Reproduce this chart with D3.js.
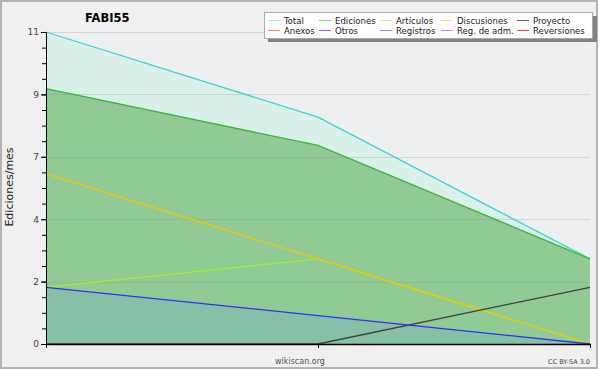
<!DOCTYPE html>
<html>
<head>
<meta charset="utf-8">
<script src="https://cdn.jsdelivr.net/npm/d3@7"></script>
<style>
  body { margin: 0; background: #fff; }
  text { font-family: 'DejaVu Sans', sans-serif; }
  .leg { font-family: 'DejaVu Sans Condensed', 'DejaVu Sans', sans-serif; font-stretch: condensed; }
</style>
</head>
<body>
<div id="chart"></div>
<script>
// three monthly points, no x labels shown
let months = ['', '', ''];
let total = [11, 8, 3];
let ediciones = [9, 7, 3];
let articulos = [2, 3, 0];
let discusiones = [6, 3, 0];
let registros = [2, 1, 0];
let proyecto = [0, 0, 2];

let yMax = 11;
let yTicks = [0, 2.2, 4.4, 6.6, 8.8, 11];

let legendNames = [
  ['Total', 'Ediciones', 'Artículos', 'Discusiones', 'Proyecto'],
  ['Anexos', 'Otros', 'Registros', 'Reg. de adm.', 'Reversiones']
];
let legendColors = [
  ['#a8ece6', '#86d086', '#daf290', '#ffd880', '#666666'],
  ['#f08858', '#9a50e6', '#8c8cf2', '#e47ce4', '#e04444']
];

let width = 600, height = 370;
let margin = {top: 32, right: 10, bottom: 26, left: 46};

let svg = d3.select('#chart').append('svg')
  .attr('width', width)
  .attr('height', height);

svg.append('rect')
  .attr('x', 1).attr('y', 1)
  .attr('width', 596).attr('height', 367)
  .attr('fill', '#f0f0f0')
  .attr('stroke', '#b4b4b4')
  .attr('stroke-width', 2);

svg.append('rect')
  .attr('x', margin.left).attr('y', margin.top)
  .attr('width', width - margin.left - margin.right)
  .attr('height', height - margin.top - margin.bottom)
  .attr('fill', '#eeeff1');

let x = d3.scalePoint()
  .domain(d3.range(months.length))
  .range([margin.left, width - margin.right]);
let y = d3.scaleLinear()
  .domain([0, yMax])
  .range([height - margin.bottom, margin.top]);

let area = (vals) => d3.area()
  .x((d, i) => x(i))
  .y0(y(0))
  .y1((d) => y(d))(vals);
let line = (vals) => d3.line()
  .x((d, i) => x(i))
  .y((d) => y(d))(vals);

// filled series
svg.append('path').attr('d', area(total)).attr('fill', '#d9f1ea');
svg.append('path').attr('d', area(ediciones)).attr('fill', '#91ca94');
svg.append('path').attr('d', area(registros)).attr('fill', '#87c0a6');

// grid
svg.selectAll('.grid')
  .data(yTicks)
  .enter()
  .append('line')
  .attr('x1', margin.left).attr('x2', width - margin.right)
  .attr('y1', (d) => Math.round(y(d)) + 0.5)
  .attr('y2', (d) => Math.round(y(d)) + 0.5)
  .attr('stroke', '#888')
  .attr('stroke-opacity', 0.25);

let lines = [
  [total, '#3dd3d0'],
  [ediciones, '#3cb43c'],
  [articulos, '#a8f020'],
  [discusiones, '#f0c800'],
  [proyecto, '#404040'],
  [registros, '#3030f0']
];
lines.forEach(([vals, c]) => {
  svg.append('path')
    .attr('d', line(vals))
    .attr('fill', 'none')
    .attr('stroke', c)
    .attr('stroke-width', 1.3);
});

// axes
let yAxis = svg.append('g')
  .attr('transform', `translate(${margin.left},0)`)
  .call(d3.axisLeft(y).tickValues(yTicks).tickFormat(d3.format('.0f')).tickSize(5).tickPadding(2));
svg.append('g')
  .attr('transform', `translate(${margin.left},0)`)
  .call(d3.axisLeft(y).tickValues(d3.range(0, yMax + 0.01, 0.55)).tickFormat('').tickSize(4))
  .select('.domain').remove();
yAxis.selectAll('text').attr('font-size', 9).attr('fill', '#444').attr('font-family', 'DejaVu Sans');
yAxis.select('.domain').attr('stroke', '#000');

let xAxis = svg.append('g')
  .attr('transform', `translate(0,${height - margin.bottom})`)
  .call(d3.axisBottom(x).tickFormat((i) => months[i]).tickSize(4).tickSizeOuter(0));
xAxis.select('.domain').attr('stroke', '#000').attr('stroke-width', 1.5);

// labels
svg.append('text')
  .attr('x', 85).attr('y', 22)
  .attr('font-size', 11.5).attr('font-weight', 'bold')
  .text('FABI55');

svg.append('text')
  .attr('transform', 'translate(13,187) rotate(-90)')
  .attr('text-anchor', 'middle')
  .attr('font-size', 11)
  .attr('fill', '#222')
  .text('Ediciones/mes');

svg.append('text')
  .attr('x', 300).attr('y', 364)
  .attr('text-anchor', 'middle')
  .attr('font-size', 8)
  .attr('fill', '#555')
  .text('wikiscan.org');

svg.append('text')
  .attr('x', 590).attr('y', 364)
  .attr('text-anchor', 'end')
  .attr('font-size', 6.5)
  .attr('fill', '#444')
  .text('CC BY-SA 3.0');

// legend
let lg = svg.append('g');
lg.append('rect').attr('x', 268).attr('y', 16).attr('width', 329).attr('height', 26).attr('fill', '#828282');
lg.append('rect').attr('x', 264.5).attr('y', 12.5).attr('width', 328).attr('height', 26)
  .attr('fill', '#fff').attr('stroke', '#aaa');
let colX = [268, 319, 380, 441, 517];
legendNames.forEach((row, r) => {
  row.forEach((name, c) => {
    let ly = 20 + r * 10;
    lg.append('line')
      .attr('x1', colX[c]).attr('x2', colX[c] + 12)
      .attr('y1', ly + 0.5).attr('y2', ly + 0.5)
      .attr('stroke', legendColors[r][c]);
    lg.append('text')
      .attr('class', 'leg')
      .attr('x', colX[c] + 16).attr('y', ly + 3.8)
      .attr('font-size', 9.5)
      .attr('fill', '#222')
      .text(name);
  });
});
</script>
</body>
</html>
